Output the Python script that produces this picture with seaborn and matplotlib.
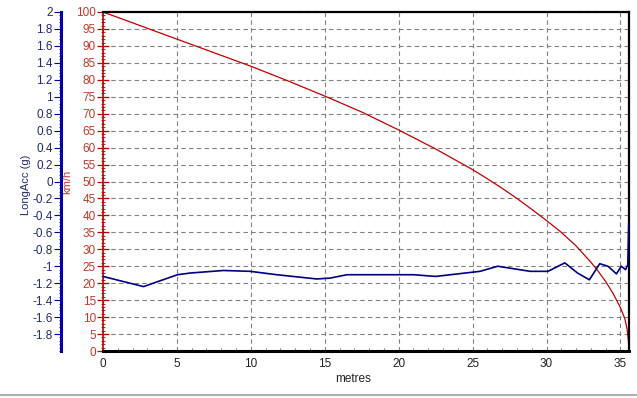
import numpy as np
import pandas as pd
import matplotlib
matplotlib.use("Agg")
import matplotlib.pyplot as plt
from matplotlib.ticker import MultipleLocator, FuncFormatter
from matplotlib.lines import Line2D
import seaborn as sns

# --- data ---
speed_x = [0, 2.5, 5, 7.5, 10, 12.5, 15, 17.5, 20, 22.5, 25, 26, 27, 28, 29,
           30, 31, 32, 33, 33.5, 34, 34.5, 35, 35.3, 35.45, 35.54, 35.58]
speed_kmh = [100, 96, 92, 88, 84, 79.7, 75.2, 70.5, 65.2, 59.6, 53.5, 50.8,
             48, 45, 41.8, 38.5, 35, 31, 26.2, 23.5, 20.5, 17, 12.8, 9.5,
             6.5, 3, 0]

acc_x = [0, 2.74, 5.04, 5.9, 8.15, 9.95, 11.76, 14.46, 15.36, 16.5, 19.4, 21,
         22.5, 24, 25.5, 26.7, 28.9, 30.1, 31.24, 32.1, 32.9, 33.6, 34.16,
         34.73, 35.06, 35.35, 35.5, 35.56]
acc_g = [-1.12, -1.24, -1.10, -1.08, -1.05, -1.06, -1.10, -1.15, -1.14, -1.10,
         -1.10, -1.10, -1.12, -1.09, -1.06, -1.00, -1.06, -1.06, -0.96, -1.08,
         -1.16, -0.97, -1.00, -1.09, -1.00, -1.04, -0.98, -0.49]

x_ticks = [0, 5, 10, 15, 20, 25, 30, 35]
kmh_ticks = list(range(0, 101, 5))
g_ticks = [-1.8, -1.6, -1.4, -1.2, -1, -0.8, -0.6, -0.4, -0.2, 0,
           0.2, 0.4, 0.6, 0.8, 1, 1.2, 1.4, 1.6, 1.8, 2]

speed_df = pd.DataFrame({"metres": speed_x, "kmh": speed_kmh})
acc_df = pd.DataFrame({"metres": acc_x, "g": acc_g})

sns.set_theme(style="white")
plt.rcParams['font.family'] = ['Liberation Sans', 'DejaVu Sans']

W, H = 637, 398
fig = plt.figure(figsize=(W / 100, H / 100), dpi=100)
L, R, T, B = 103, 629, 12, 351
ax = fig.add_axes([L / W, (H - B) / H, (R - L) / W, (B - T) / H])
ax2 = ax.twinx()

red = "#C00000"
red_txt = "#C0392B"
navy = "#000080"
blue_spine = "#0000A8"
blue_txt = "#1F2A70"

sns.lineplot(data=speed_df, x="metres", y="kmh", ax=ax, color=red,
             linewidth=0.9, estimator=None, sort=False)
sns.lineplot(data=acc_df, x="metres", y="g", ax=ax2, color=navy,
             linewidth=1.2, estimator=None, sort=False)

ax.set_xlim(0, 35.58)
ax.set_ylim(0, 100)
ax2.set_ylim(-2, 2)

# grid
ax.set_xticks(x_ticks)
ax.set_yticks(kmh_ticks)
ax.grid(True, color="#808080", linestyle=(0, (4, 3)), linewidth=0.8)
ax.set_axisbelow(True)

# x axis
ax.xaxis.set_minor_locator(MultipleLocator(1))
ax.tick_params(axis="x", which="major", direction="in", length=4, width=0.8,
               colors="#606060", labelcolor="#222222", labelsize=8.5, pad=5)
ax.tick_params(axis="x", which="minor", direction="in", length=2.5, width=0.6,
               colors="#606060", bottom=True)
ax.set_xlabel("metres", fontsize=8.5, color="#222222")
ax.xaxis.set_label_coords(0.475, -0.065)

# red (km/h) axis on the left of plot
ax.yaxis.set_minor_locator(MultipleLocator(1))
ax.tick_params(axis="y", which="major", direction="inout", length=8, width=0.9,
               colors=red, labelcolor=red_txt, labelsize=8.5, pad=1)
ax.tick_params(axis="y", which="minor", direction="inout", length=3, width=0.6,
               colors=red, left=True)
ax.set_ylabel("km/h", fontsize=8, color=red_txt)
ax.yaxis.set_label_coords(-0.059, 0.5)

# blue (LongAcc) axis moved further left
ax2.yaxis.set_label_position("left")
ax2.yaxis.set_ticks_position("left")
ax2.spines["left"].set_position(("axes", -42 / (R - L)))
ax2.spines["left"].set_visible(True)
ax2.spines["left"].set_color(blue_spine)
ax2.spines["left"].set_linewidth(2.2)
ax2.set_yticks(g_ticks)
ax2.yaxis.set_major_formatter(FuncFormatter(lambda v, p: f"{v:g}"))
ax2.yaxis.set_minor_locator(MultipleLocator(0.04))
ax2.tick_params(axis="y", which="major", direction="out", length=5, width=0.8,
                colors=blue_spine, labelcolor=blue_txt, labelsize=8.5, pad=1)
ax2.tick_params(axis="y", which="minor", direction="out", length=1.5,
                width=0.6, colors=blue_spine)
ax2.set_ylabel("LongAcc (g)", fontsize=8, color=blue_txt)
ax2.yaxis.set_label_coords(-0.136, 0.49)
ax2.set_xlabel("")

for s in ["top", "right", "bottom"]:
    ax2.spines[s].set_visible(False)
    ax.spines[s].set_color("black")
ax.spines["top"].set_linewidth(1.6)
ax.spines["right"].set_linewidth(1.6)
ax.spines["bottom"].set_linewidth(2.2)
ax.spines["left"].set_color(red)
ax.spines["left"].set_linewidth(1.2)

fig.add_artist(Line2D([0, 1], [3 / H, 3 / H], color="#B0B0B0", linewidth=1.5,
                      transform=fig.transFigure))

fig.savefig("out.png", dpi=100, facecolor="white")
